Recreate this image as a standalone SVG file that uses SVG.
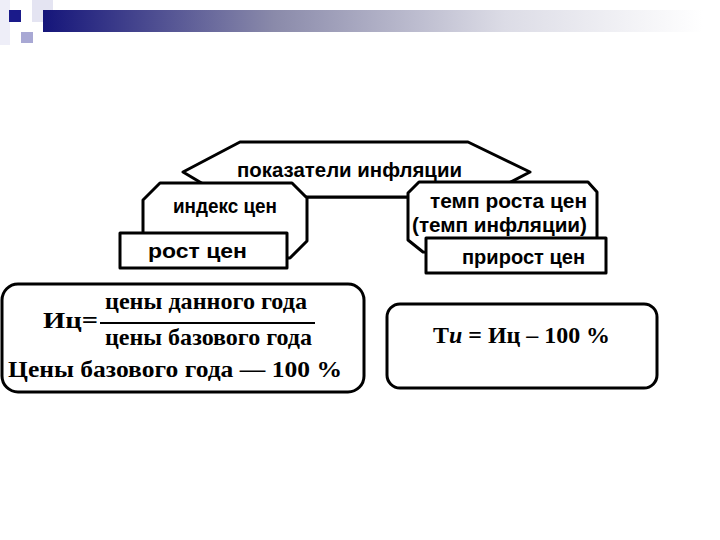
<svg xmlns="http://www.w3.org/2000/svg" width="720" height="540" viewBox="0 0 720 540">
<defs>
<linearGradient id="bar" x1="0" y1="0" x2="1" y2="0">
<stop offset="0" stop-color="#15157a"/>
<stop offset="0.35" stop-color="#8a8aaa"/>
<stop offset="0.7" stop-color="#dcdce6"/>
<stop offset="1" stop-color="#ffffff"/>
</linearGradient>
<style>
.shape{fill:#fff;stroke:#000;stroke-width:3;stroke-linejoin:round}
.sans{font-family:"Liberation Sans",Arial,sans-serif;font-weight:bold;font-size:20px;fill:#000}
.serif{font-family:"Liberation Serif","Times New Roman",serif;font-weight:bold;font-size:24px;fill:#000}
.conn{stroke:#000;stroke-width:3;fill:none}
</style>
</defs>
<rect width="720" height="540" fill="#fff"/>
<g id="header">
<rect x="0" y="0" width="10" height="45" fill="#eeeef8"/>
<rect x="32" y="0" width="21" height="22" fill="#e4e4f2"/>
<rect x="43" y="10" width="660" height="22" fill="url(#bar)"/>
<rect x="9" y="10" width="12" height="12" fill="#1a1a8a"/>
<rect x="21" y="32" width="12" height="11" fill="#a8a8d4"/>
</g>
<g id="connectors">
<line class="conn" x1="307" y1="197" x2="408" y2="197"/>
</g>
<g id="node-root">
<polygon class="shape" points="240,142 468,142 530,172 482,197 225,197 183,172"/>
<text class="sans" x="349.5" y="177" text-anchor="middle" font-size="21" textLength="225" lengthAdjust="spacingAndGlyphs">показатели инфляции</text>
</g>
<g id="node-index">
<polygon class="shape" points="143,200 160,183 292,183 307,198 307,241 290,258 143,258"/>
<text class="sans" x="225" y="213" text-anchor="middle" textLength="104" lengthAdjust="spacingAndGlyphs">индекс цен</text>
</g>
<g id="node-growth">
<rect class="shape" x="120" y="233" width="167" height="35"/>
<text class="sans" x="197.5" y="258" text-anchor="middle" textLength="99" lengthAdjust="spacingAndGlyphs">рост цен</text>
</g>
<g id="node-rate">
<polygon class="shape" points="408,193 419,182 588,182 597,192 597,256 423,252 408,240"/>
<text class="sans" x="508.5" y="208" text-anchor="middle" textLength="157" lengthAdjust="spacingAndGlyphs">темп роста цен</text>
<text class="sans" x="499.5" y="232" text-anchor="middle" textLength="175" lengthAdjust="spacingAndGlyphs">(темп инфляции)</text>
</g>
<g id="node-increase">
<rect class="shape" x="426" y="238" width="180" height="35"/>
<text class="sans" x="523.5" y="264" text-anchor="middle" textLength="123" lengthAdjust="spacingAndGlyphs">прирост цен</text>
</g>
<g id="node-formula-index">
<rect class="shape" x="2" y="284" width="362" height="108" rx="16" ry="16"/>
<text class="serif" x="206" y="309" text-anchor="middle" font-size="23" textLength="202" lengthAdjust="spacingAndGlyphs">цены данного года</text>
<text class="serif" x="43" y="328" font-size="23" textLength="55" lengthAdjust="spacingAndGlyphs">Иц=</text>
<line x1="100" y1="323" x2="315" y2="323" stroke="#000" stroke-width="2"/>
<text class="serif" x="208.5" y="345" text-anchor="middle" font-size="23" textLength="207" lengthAdjust="spacingAndGlyphs">цены базового года</text>
<text class="serif" x="8" y="377" textLength="334" lengthAdjust="spacingAndGlyphs">Цены базового года — 100 %</text>
</g>
<g id="node-formula-rate">
<rect class="shape" x="387" y="304" width="270" height="84" rx="13" ry="13"/>
<text class="serif" x="433" y="343" textLength="177" lengthAdjust="spacingAndGlyphs">Т<tspan font-style="italic">и</tspan> = Иц – 100 %</text>
</g>
</svg>
